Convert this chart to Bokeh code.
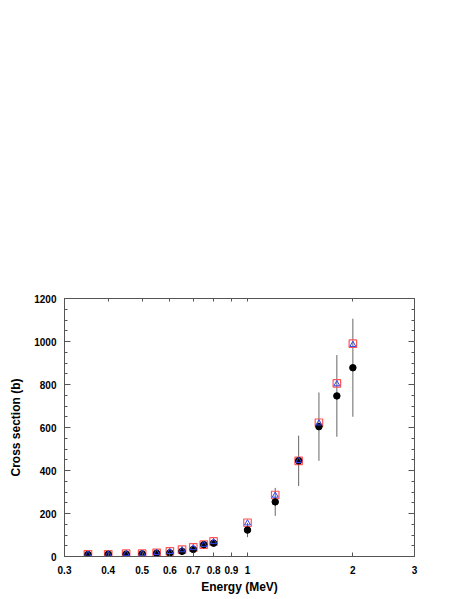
from bokeh.plotting import figure
from bokeh.models import FixedTicker, LogAxis, LinearAxis, CustomJSTickFormatter, Range1d
from bokeh.embed import file_html
from bokeh.resources import INLINE

energy = [0.35, 0.4, 0.45, 0.5, 0.55, 0.6, 0.65, 0.7, 0.75, 0.8, 1.0, 1.2, 1.4, 1.6, 1.8, 2.0]
sigma_meas = [9, 10, 11, 12, 15, 17, 24, 33, 55, 62, 123, 254, 445, 604, 747, 878]
sigma_err = [2, 2, 2, 3, 3, 4, 5, 8, 10, 12, 33, 65, 117, 159, 190, 228]
sigma_sq = [10, 10, 13, 13, 17, 24, 32, 42, 55, 70, 157, 286, 445, 622, 805, 990]
sigma_tri = [10, 10, 12, 13, 17, 22, 30, 40, 55, 68, 155, 284, 445, 620, 802, 985]
x_ticks = [0.3, 0.4, 0.5, 0.6, 0.7, 0.8, 0.9, 1, 2, 3]
y_ticks = [0, 200, 400, 600, 800, 1000, 1200]
y_minor = list(range(0, 1201, 50))

FONT = "Liberation Sans"
AX = "#555555"

p = figure(width=455, height=596, x_axis_type="log", output_backend="svg",
           toolbar_location=None, x_range=Range1d(0.3, 3), y_range=Range1d(0, 1200),
           min_border_left=64, min_border_right=41, min_border_top=298, min_border_bottom=30,
           x_axis_label="Energy (MeV)", y_axis_label="Cross section (b)")
p.grid.visible = False
p.outline_line_color = AX
p.background_fill_color = "white"
p.border_fill_color = "white"

fmt = CustomJSTickFormatter(code="return String(Math.round(tick*10)/10);")

def style(ax, labels=True, tick=6):
    ax.axis_line_color = AX
    ax.major_tick_line_color = AX
    ax.minor_tick_line_color = AX
    ax.major_tick_in = tick
    ax.major_tick_out = 0
    ax.minor_tick_in = 3
    ax.minor_tick_out = 0
    ax.major_label_text_font = FONT
    ax.major_label_text_font_style = "bold"
    ax.major_label_text_font_size = "10px"
    ax.major_label_text_color = "black" if labels else None
    ax.axis_label_text_font = FONT
    ax.axis_label_text_font_style = "bold"
    ax.axis_label_text_font_size = "12px"
    ax.axis_label_text_color = "black"

xb = p.xaxis[0]
xb.ticker = FixedTicker(ticks=x_ticks)
xb.formatter = fmt
style(xb, tick=4)
xb.major_label_standoff = 9
xb.axis_label_standoff = 3

yl = p.yaxis[0]
yl.ticker = FixedTicker(ticks=y_ticks, minor_ticks=y_minor)
style(yl)
yl.major_label_standoff = 8
yl.axis_label_standoff = 8

xt = LogAxis(ticker=FixedTicker(ticks=x_ticks), formatter=fmt)
style(xt, labels=False, tick=3)
p.add_layout(xt, "above")

yr = LinearAxis(ticker=FixedTicker(ticks=y_ticks, minor_ticks=y_minor))
style(yr, labels=False)
p.add_layout(yr, "right")

lo = [m - e for m, e in zip(sigma_meas, sigma_err)]
hi = [m + e for m, e in zip(sigma_meas, sigma_err)]
p.segment(x0=energy, y0=lo, x1=energy, y1=hi, line_color="#666666", line_width=1)

p.scatter(energy, sigma_sq, marker="square", size=7.5, fill_color=None,
          line_color="#ff5555", line_width=1.2)
p.scatter(energy, sigma_meas, marker="circle", size=6.5, fill_color="black",
          line_color="black")
p.scatter(energy, sigma_tri, marker="triangle", size=6, fill_color=None,
          line_color="#3344ee", line_width=1)

open("out.html", "w").write(file_html(p, INLINE))
